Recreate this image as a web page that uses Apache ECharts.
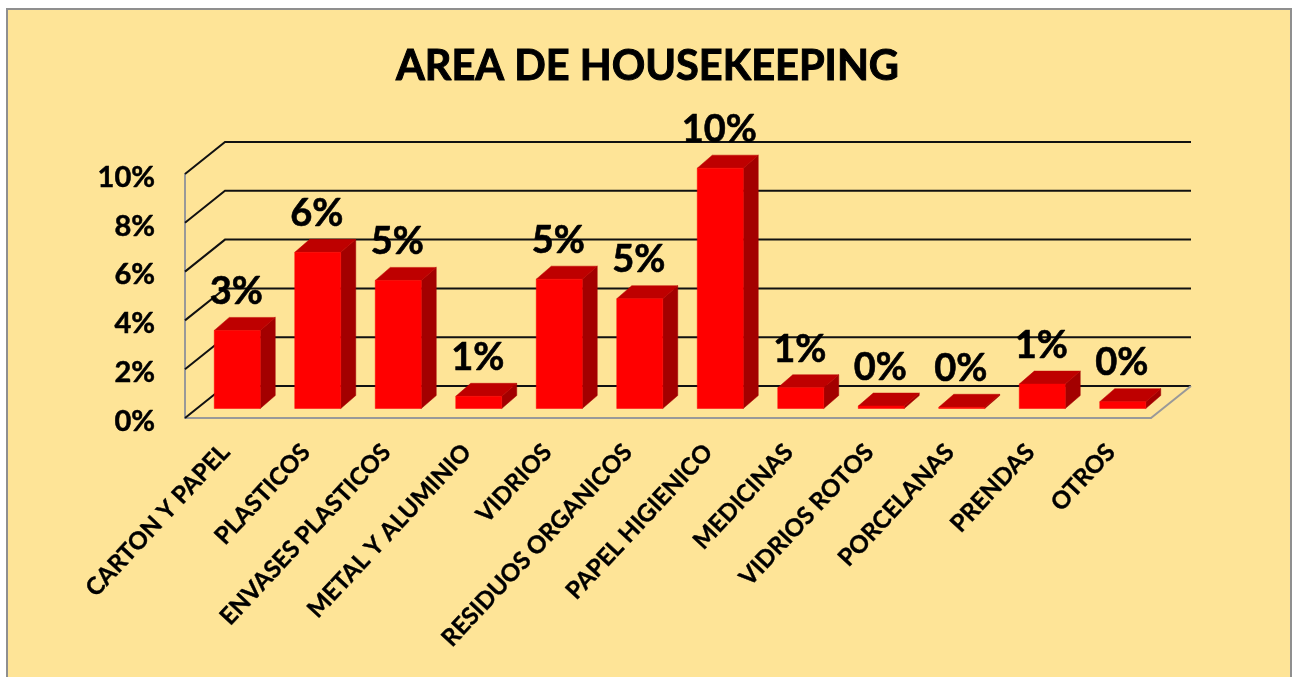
<!DOCTYPE html>
<html><head><meta charset="utf-8">
<style>html,body{margin:0;padding:0;background:#fff}#c{width:1295px;height:677px}</style>
<script src="https://cdn.jsdelivr.net/npm/echarts@6/dist/echarts.min.js"></script>
</head><body><div id="c"></div>
<script>
const categories = ['CARTON Y PAPEL','PLASTICOS','ENVASES PLASTICOS','METAL Y ALUMINIO','VIDRIOS','RESIDUOS ORGANICOS','PAPEL HIGIENICO','MEDICINAS','VIDRIOS ROTOS','PORCELANAS','PRENDAS','OTROS'];
const values = [3.2,6.4,5.25,0.5,5.3,4.5,9.85,0.85,0.1,0.05,1.0,0.28];
const gridTicks = [0,2,4,6,8,10];
const FONT = 'Lato, "Open Sans", sans-serif';
const WALL = {dx:40, dy:-32};
const BAR_SHIFT = {dx:12, dy:-9.5};
const BAR_DEPTH = {dx:15, dy:-13};
const BAR_W = 46;

function poly(points, fill, z2){
  return {type:'polygon', z2:z2||0, shape:{points}, style:{fill, stroke:fill, lineWidth:0.5}};
}
function wallItem(params, api){
  const cs = params.coordSys;
  const v = api.value(0);
  const y = api.coord([0, v])[1];
  const x0 = cs.x, x1 = cs.x + cs.width;
  const isFloor = v === 0;
  const children = [{
    type:'polyline',
    shape:{points:[[x0,y],[x0+WALL.dx,y+WALL.dy],[x1+WALL.dx,y+WALL.dy]]},
    style:{fill:null, stroke:'#111', lineWidth:2}
  }];
  if(isFloor){
    children.push({type:'line', shape:{x1:x1,y1:y,x2:x1+WALL.dx,y2:y+WALL.dy}, style:{stroke:'#999', lineWidth:2}});
  }
  return {type:'group', children};
}
function barItem(params, api){
  const i = api.value(0), v = api.value(1);
  const base = api.coord([i,0]), top = api.coord([i,v]);
  const l = base[0] + BAR_SHIFT.dx - BAR_W/2, r = l + BAR_W;
  const b = base[1] + BAR_SHIFT.dy, t = top[1] + BAR_SHIFT.dy;
  const d = BAR_DEPTH;
  return {type:'group', children:[
    poly([[r,b],[r+d.dx,b+d.dy],[r+d.dx,t+d.dy],[r,t]], '#A30000'),
    poly([[l,t],[l+d.dx,t+d.dy],[r+d.dx,t+d.dy],[r,t]], '#BE0000'),
    poly([[l,b],[r,b],[r,t],[l,t]], '#FF0000'),
    {type:'text', z2:10, style:{text:Math.round(v)+'%', x:(l+r)/2-1, y:t+d.dy-25.5,
      align:'center', verticalAlign:'middle', font:'bold 38px '+FONT, fill:'#000',
      stroke:'#000', lineWidth:0.6}}
  ]};
}
const chart = echarts.init(document.getElementById('c'), null, {renderer:'canvas'});
chart.setOption({
  animation:false,
  backgroundColor:'#fff',
  graphic:[{type:'rect', z:-10, shape:{x:7,y:9,width:1284,height:690},
    style:{fill:'#FEE497', stroke:'#8F8F8F', lineWidth:2}}],
  title:{text:'AREA DE HOUSEKEEPING', left:'center', top:41,
    textStyle:{fontFamily:FONT, fontWeight:'bold', fontSize:41.5, color:'#000', textBorderColor:'#000', textBorderWidth:1}},
  grid:{left:185, top:174, width:966, height:244, containLabel:false},
  xAxis:{type:'category', data:categories,
    axisTick:{show:false},
    axisLine:{show:true, lineStyle:{color:'#999', width:2}},
    axisLabel:{rotate:47, interval:0, margin:30, fontFamily:FONT, fontWeight:'bold', fontSize:24, color:'#000', textBorderColor:'#000', textBorderWidth:0.4}},
  yAxis:{type:'value', min:0, max:10, interval:2,
    splitLine:{show:false}, axisTick:{show:false},
    axisLine:{show:true, lineStyle:{color:'#999', width:2}},
    axisLabel:{formatter:'{a|{value}%}', margin:30,
      rich:{a:{padding:[7,0,0,0], fontFamily:FONT, fontWeight:'bold', fontSize:29, color:'#000', textBorderColor:'#000', textBorderWidth:0.5}}}},
  series:[
    {type:'custom', z:1, silent:true, renderItem:wallItem, data:gridTicks.map(t=>[t]), encode:{y:0}},
    {type:'custom', z:2, renderItem:barItem, data:values.map((v,i)=>[i,v]), encode:{x:0,y:1}}
  ]
});
</script></body></html>
